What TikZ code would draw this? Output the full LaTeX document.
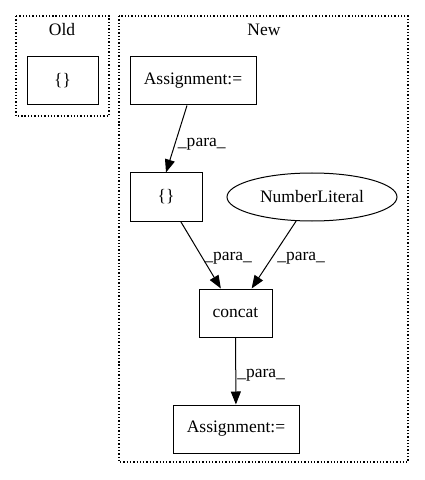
\documentclass[tikz,border=0pt]{standalone}
\usepackage{fontspec}
\setmainfont{Liberation Serif}
\usetikzlibrary{arrows.meta,shapes.geometric}
\begin{document}
\begin{tikzpicture}[x=1bp,y=-1bp]

    \tikzset{
      cluster/.style={
        draw,
        dotted,
        line width=1.3pt,
      },
      opbox/.style={
        draw,
        line width=1bp,
        rectangle,
        inner sep=0pt,
        minimum height=48bp,
        font=\fontsize{17.5bp}{20bp}\selectfont,
      },
      litnode/.style={
        draw,
        line width=1bp,
        ellipse,
        inner sep=0pt,
        minimum width=170bp,
        minimum height=48bp,
        font=\fontsize{17.5bp}{20bp}\selectfont,
      },
      flow/.style={
        line width=1bp,
        -{Triangle[length=13bp,width=10bp]},
      },
      lbl/.style={
        font=\fontsize{17.5bp}{20bp}\selectfont,
        inner sep=1pt,
      },
    }
    \useasboundingbox (0,0) rectangle (424,480);
    \draw[cluster] (16,16) rectangle (109,116);
    \draw[cluster] (119,16) rectangle (408,462);
	\node[lbl] (oldlabel) at (62,30) {Old};
	\node[lbl] (newlabel) at (264,30) {New};
	\node[opbox,minimum width=71bp] (oldbraces) at (62.5,81) {\{\}};
	\node[opbox,minimum width=126bp] (assigntop) at (193,81) {Assignment:=};
	\node[opbox,minimum width=72bp] (braces) at (166,197) {\{\}};
	\node[litnode] (numlit) at (312,197) {NumberLiteral};
	\node[opbox,minimum width=73bp] (concat) at (235.5,313) {concat};
	\node[opbox,minimum width=126bp] (assignbot) at (236,429) {Assignment:=};
	\draw[flow] (assigntop.south) ++(-6,0) -- (braces.north) node[lbl,midway,right,yshift=-5bp] {\_para\_};
	\draw[flow] (braces) -- (concat) node[lbl,midway,right,xshift=2bp,yshift=-3bp] {\_para\_};
	\draw[flow] (numlit) -- (concat) node[lbl,midway,right,xshift=2bp,yshift=-3bp] {\_para\_};
	\draw[flow] (concat) -- (assignbot) node[lbl,midway,right,yshift=-4bp] {\_para\_};

\end{tikzpicture}
\end{document}
